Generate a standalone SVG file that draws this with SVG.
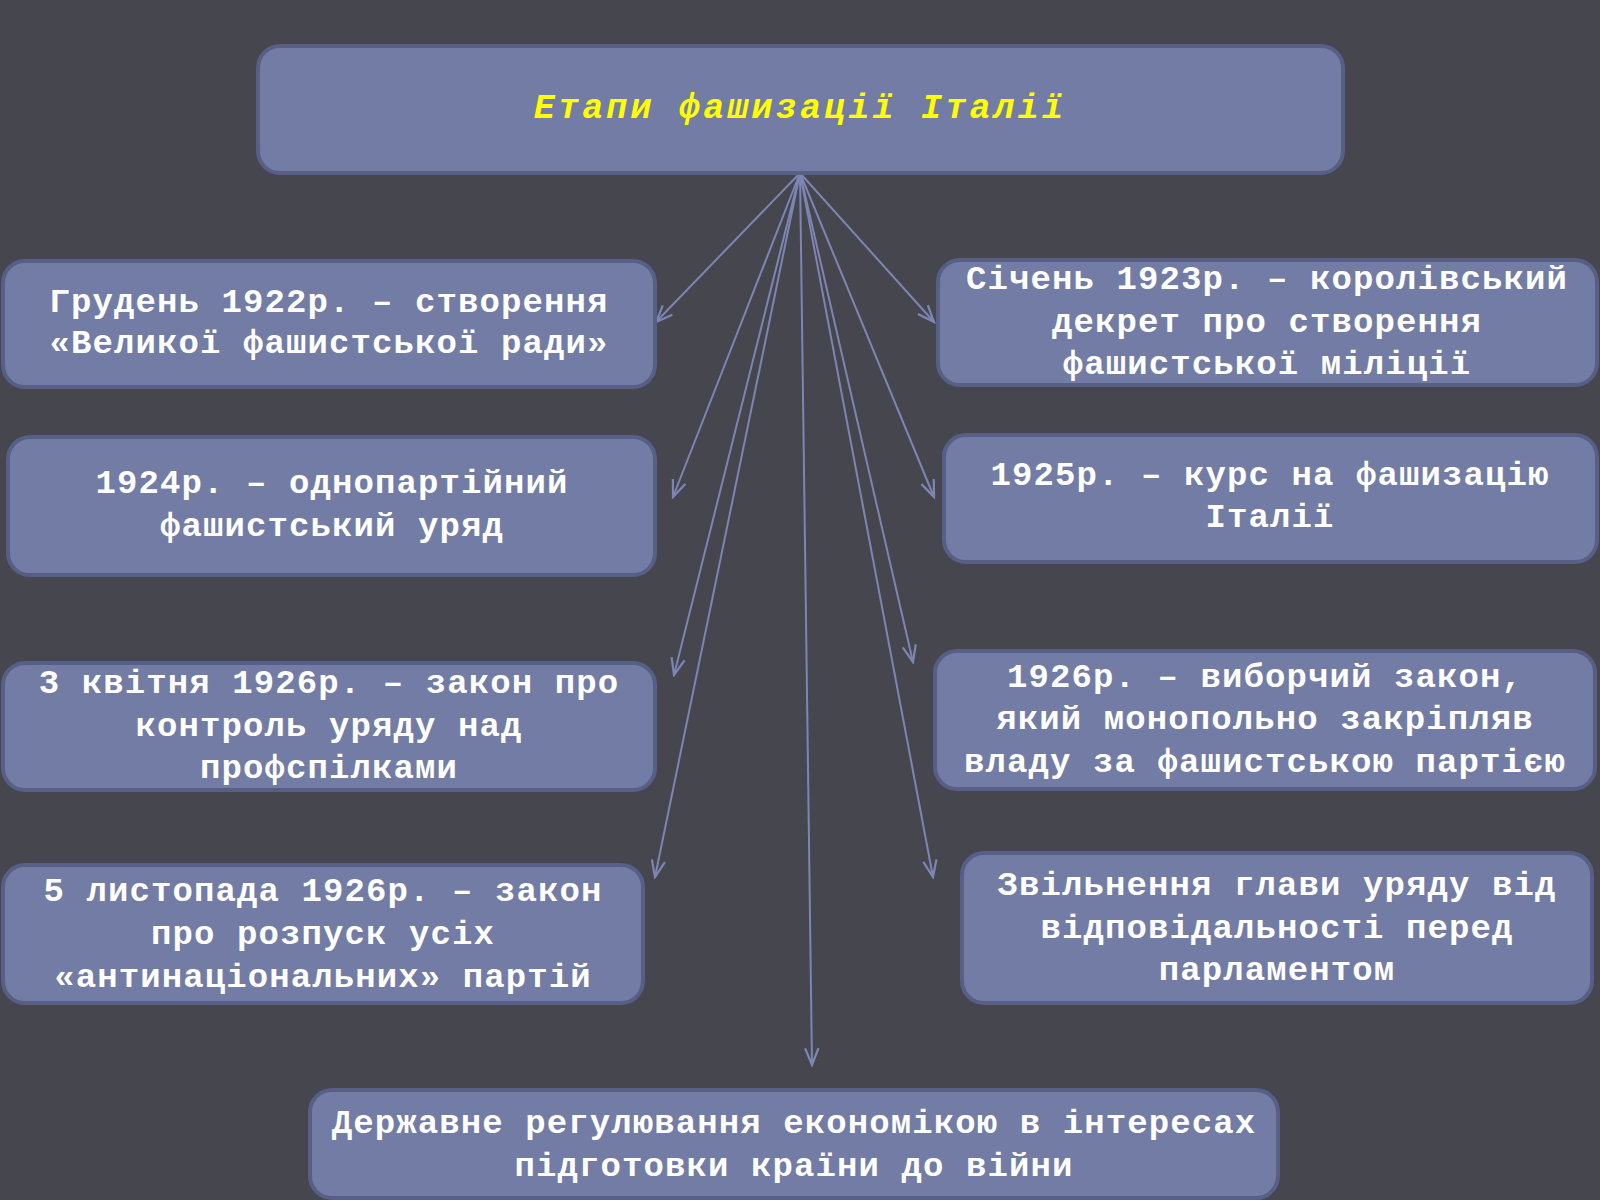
<svg xmlns="http://www.w3.org/2000/svg" width="1600" height="1200" viewBox="0 0 1600 1200">
<defs>
<style>
.box{fill:#737ca4;stroke:#575f87;stroke-width:4}
.t{font-family:"Liberation Mono","DejaVu Sans Mono",monospace;font-weight:bold;font-size:34px;letter-spacing:1.1px;fill:#ffffff;text-anchor:middle}
.title{font-family:"Liberation Mono","DejaVu Sans Mono",monospace;font-weight:bold;font-style:italic;font-size:35px;letter-spacing:3.2px;fill:#ffff00;text-anchor:middle}
.c{stroke:#7d85b3;stroke-width:2;fill:none;marker-end:url(#ah)}
</style>
<marker id="ah" markerUnits="userSpaceOnUse" markerWidth="20" markerHeight="20" viewBox="-16 -8 18 16" refX="0" refY="0" orient="auto">
<path d="M-15,-6 L0,0 L-15,6" fill="none" stroke="#7d85b3" stroke-width="2"/>
</marker>
</defs>
<rect width="1600" height="1200" fill="#46464f"/>
<g id="connectors">
<line class="c" x1="800" y1="173" x2="656" y2="322"/>
<line class="c" x1="800" y1="173" x2="673" y2="497"/>
<line class="c" x1="800" y1="173" x2="674" y2="675"/>
<line class="c" x1="800" y1="173" x2="655" y2="877"/>
<line class="c" x1="800" y1="173" x2="812" y2="1065"/>
<line class="c" x1="800" y1="173" x2="934" y2="322"/>
<line class="c" x1="800" y1="173" x2="934" y2="497"/>
<line class="c" x1="800" y1="173" x2="913" y2="662"/>
<line class="c" x1="800" y1="173" x2="933" y2="877"/>
</g>
<g id="title">
<rect class="box" x="258" y="46" width="1085" height="127" rx="22"/>
<text class="title" x="800" y="118">Етапи фашизації Італії</text>
</g>
<g id="l1">
<rect class="box" x="3" y="261" width="652" height="126" rx="22"/>
<text class="t" x="329" y="312">Грудень 1922р. – створення</text>
<text class="t" x="329" y="353">«Великої фашистської ради»</text>
</g>
<g id="l2">
<rect class="box" x="8" y="437" width="647" height="138" rx="22"/>
<text class="t" x="332" y="493">1924р. – однопартійний</text>
<text class="t" x="332" y="536">фашистський уряд</text>
</g>
<g id="l3">
<rect class="box" x="3" y="663" width="652" height="127" rx="22"/>
<text class="t" x="329" y="693">3 квітня 1926р. – закон про</text>
<text class="t" x="329" y="736">контроль уряду над</text>
<text class="t" x="329" y="778">профспілками</text>
</g>
<g id="l4">
<rect class="box" x="3" y="865" width="640" height="138" rx="22"/>
<text class="t" x="323" y="901">5 листопада 1926р. – закон</text>
<text class="t" x="323" y="944">про розпуск усіх</text>
<text class="t" x="323" y="987">«антинаціональних» партій</text>
</g>
<g id="r1">
<rect class="box" x="938" y="260" width="659" height="125" rx="22"/>
<text class="t" x="1267" y="289">Січень 1923р. – королівський</text>
<text class="t" x="1267" y="332">декрет про створення</text>
<text class="t" x="1267" y="374">фашистської міліції</text>
</g>
<g id="r2">
<rect class="box" x="944" y="435" width="653" height="127" rx="22"/>
<text class="t" x="1270" y="485">1925р. – курс на фашизацію</text>
<text class="t" x="1270" y="527">Італії</text>
</g>
<g id="r3">
<rect class="box" x="935" y="651" width="660" height="138" rx="22"/>
<text class="t" x="1265" y="687">1926р. – виборчий закон,</text>
<text class="t" x="1265" y="729">який монопольно закріпляв</text>
<text class="t" x="1265" y="772">владу за фашистською партією</text>
</g>
<g id="r4">
<rect class="box" x="962" y="853" width="630" height="150" rx="22"/>
<text class="t" x="1277" y="895">Звільнення глави уряду від</text>
<text class="t" x="1277" y="938">відповідальності перед</text>
<text class="t" x="1277" y="980">парламентом</text>
</g>
<g id="bottom">
<rect class="box" x="310" y="1090" width="968" height="108" rx="22"/>
<text class="t" x="794" y="1133">Державне регулювання економікою в інтересах</text>
<text class="t" x="794" y="1176">підготовки країни до війни</text>
</g>
</svg>
